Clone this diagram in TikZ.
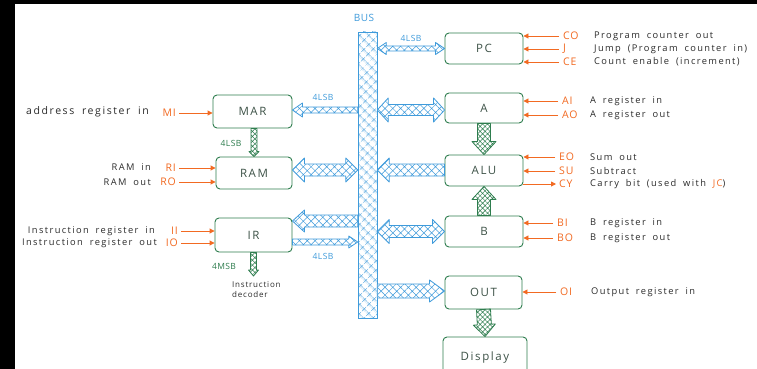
\documentclass[tikz,border=0pt]{standalone}
\usepackage{fontspec}
\setmainfont{Open Sans}
\newfontfamily\descfont{Open Sans}[LetterSpace=15,WordSpace=1.8]
\usetikzlibrary{patterns.meta,arrows.meta,calc}
\definecolor{busblue}{HTML}{3F9BDB}
\definecolor{boxgreen}{HTML}{2E7D4E}
\definecolor{sigorange}{HTML}{F26A22}
\definecolor{inkgray}{HTML}{2B2B2B}
\definecolor{lblgray}{HTML}{3D5247}
% single fat arrow: style, from, to, half shaft, half head, head length
\newcommand\fatarrow[6]{%
\path[#1] let \p1=#2, \p2=#3,
  \n1={(\x2-\x1)/veclen(\x2-\x1,\y2-\y1)},
  \n2={(\y2-\y1)/veclen(\x2-\x1,\y2-\y1)} in
  ({\x1-#4*\n2},{\y1+#4*\n1})
  -- ({\x2-#6*\n1-#4*\n2},{\y2-#6*\n2+#4*\n1})
  -- ({\x2-#6*\n1-#5*\n2},{\y2-#6*\n2+#5*\n1})
  -- (\p2)
  -- ({\x2-#6*\n1+#5*\n2},{\y2-#6*\n2-#5*\n1})
  -- ({\x2-#6*\n1+#4*\n2},{\y2-#6*\n2-#4*\n1})
  -- ({\x1+#4*\n2},{\y1-#4*\n1}) -- cycle;}
% double fat arrow
\newcommand\fatdarrow[6]{%
\path[#1] let \p1=#2, \p2=#3,
  \n1={(\x2-\x1)/veclen(\x2-\x1,\y2-\y1)},
  \n2={(\y2-\y1)/veclen(\x2-\x1,\y2-\y1)} in
  (\p1)
  -- ({\x1+#6*\n1-#5*\n2},{\y1+#6*\n2+#5*\n1})
  -- ({\x1+#6*\n1-#4*\n2},{\y1+#6*\n2+#4*\n1})
  -- ({\x2-#6*\n1-#4*\n2},{\y2-#6*\n2+#4*\n1})
  -- ({\x2-#6*\n1-#5*\n2},{\y2-#6*\n2+#5*\n1})
  -- (\p2)
  -- ({\x2-#6*\n1+#5*\n2},{\y2-#6*\n2-#5*\n1})
  -- ({\x2-#6*\n1+#4*\n2},{\y2-#6*\n2-#4*\n1})
  -- ({\x1+#6*\n1+#4*\n2},{\y1+#6*\n2-#4*\n1})
  -- ({\x1+#6*\n1+#5*\n2},{\y1+#6*\n2-#5*\n1})
  -- cycle;}
\begin{document}
\begin{tikzpicture}[x=1pt,y=-1pt,
  reg/.style={draw=boxgreen, line width=0.9pt, rounded corners=4pt, text=lblgray,
    font=\fontsize{11.5}{12}\selectfont\addfontfeatures{LetterSpace=14}, inner sep=0pt},
  busbar/.style={draw=busblue, line width=0.8pt, pattern={Hatch[angle=45,distance=6.5pt,line width=0.5pt]}, pattern color=busblue, inner sep=0pt},
  bluefat/.style={draw=busblue, line width=0.8pt, line join=round, preaction={fill=white},
    pattern={Hatch[angle=45,distance=5.5pt,line width=0.5pt]}, pattern color=busblue},
  greenfat/.style={draw=boxgreen, line width=0.8pt, line join=round, preaction={fill=white},
    pattern={Hatch[angle=45,distance=3.5pt,line width=0.5pt]}, pattern color=boxgreen},
  sigl/.style={text=sigorange, font=\fontsize{10.5}{11}\selectfont\addfontfeatures{LetterSpace=8}, inner sep=0pt},
  sig/.style={draw=sigorange, line width=0.9pt, -{Triangle[length=5pt,width=5pt]}},
  desc/.style={text=inkgray, font=\descfont\fontsize{9.3}{10}\selectfont, inner sep=0pt},
  buslbl/.style={text=busblue, font=\fontsize{8.5}{9}\selectfont\addfontfeatures{LetterSpace=5}, inner sep=0pt},
  grnlbl/.style={text=boxgreen, font=\fontsize{8.5}{9}\selectfont\addfontfeatures{LetterSpace=5}, inner sep=0pt},
]
\useasboundingbox (0,0) rectangle (757,369);
\fill[white] (0,0) rectangle (757,369);

% registers
\node[reg, minimum width=78pt, minimum height=31pt] (PC) at (484,48.5) {PC};
\node[reg, minimum width=78pt, minimum height=30pt] (A) at (484,108) {A};
\node[reg, minimum width=78pt, minimum height=31pt] (ALU) at (484,170.5) {ALU};
\node[reg, minimum width=78pt, minimum height=31pt] (B) at (484,231.5) {B};
\node[reg, minimum width=77pt, minimum height=33pt] (OUT) at (483.5,292.5) {OUT};
\node[reg, minimum width=84pt, minimum height=38pt, text depth=0pt] (DISP) at (485,356) {Display};
\node[reg, minimum width=79pt, minimum height=33pt] (MAR) at (252.5,111.5) {MAR};
\node[reg, minimum width=76pt, minimum height=32pt] (RAM) at (254,173) {RAM};
\node[reg, minimum width=77pt, minimum height=34pt] (IR) at (253.5,235) {IR};

% bus
\node[busbar, minimum width=19pt, minimum height=286pt] (bus) at (367.5,175) {};
\node[text=busblue, font=\fontsize{10}{11}\selectfont\addfontfeatures{LetterSpace=5}, inner sep=0pt] (buslabel) at (364,18) {BUS};

% blue bus arrows
\fatdarrow{bluefat}{(bus.east |- PC.west)}{(PC.west)}{2.5pt}{6pt}{9pt}
\node[buslbl] (lpc) at (411,38) {4LSB};
\fatarrow{bluefat}{([yshift=1.5pt]bus.west |- MAR.east)}{([yshift=1.5pt]MAR.east)}{3pt}{7pt}{10pt}
\node[buslbl] (lmar) at (323,97) {4LSB};
\fatdarrow{bluefat}{([yshift=3pt]RAM.east)}{([yshift=3pt]bus.west |- RAM.east)}{6pt}{12pt}{12pt}
\fatarrow{bluefat}{([yshift=14pt]bus.west |- IR.east)}{([yshift=14pt]IR.east)}{6pt}{11pt}{12pt}
\fatarrow{bluefat}{([yshift=-7pt]IR.east)}{([yshift=-7pt]bus.west |- IR.east)}{3pt}{6pt}{9pt}
\node[buslbl] (lir) at (323,256) {4LSB};
\fatdarrow{bluefat}{([yshift=-2pt]bus.east |- A.west)}{([yshift=-2pt]A.west)}{5.5pt}{12pt}{11pt}
\fatarrow{bluefat}{([yshift=0.5pt]ALU.west)}{([yshift=0.5pt]bus.east |- ALU.west)}{6pt}{12pt}{12pt}
\fatdarrow{bluefat}{(bus.east |- B.west)}{(B.west)}{6pt}{12pt}{12pt}
\fatarrow{bluefat}{([yshift=1.5pt]bus.east |- OUT.west)}{([yshift=1.5pt]OUT.west)}{7pt}{11pt}{15pt}

% green data arrows
\fatarrow{greenfat}{(MAR.south -| RAM.north)}{(RAM.north)}{3pt}{5pt}{5pt}
\node[grnlbl] (lmr) at (231,143) {4LSB};
\coordinate (dec) at (253.5,276);
\fatarrow{greenfat}{(IR.south)}{(dec)}{3pt}{5pt}{6pt}
\node[grnlbl] (lms) at (224,266) {4MSB};
\node[text=inkgray, font=\fontsize{8}{10}\selectfont\addfontfeatures{LetterSpace=10}, align=left, anchor=north west, inner sep=0pt] (decoder) at (232,281) {Instruction\\decoder};
\fatarrow{greenfat}{(A.south)}{(ALU.north)}{6.5pt}{12pt}{13pt}
\fatarrow{greenfat}{(B.north)}{(ALU.south)}{6.5pt}{12pt}{13pt}
\fatarrow{greenfat}{(OUT.south)}{(DISP.north)}{7pt}{11pt}{12pt}

% right control signals
\node[sigl, anchor=west] (CO) at (563,36) {CO};
\node[sigl, anchor=west] (J) at (563,49) {J};
\node[sigl, anchor=west] (CE) at (563,62) {CE};
\node[sigl, anchor=west] (AI) at (562,101) {AI};
\node[sigl, anchor=west] (AO) at (562,115) {AO};
\node[sigl, anchor=west] (EO) at (559,157) {EO};
\node[sigl, anchor=west] (SU) at (559,171) {SU};
\node[sigl, anchor=west] (CY) at (559,184) {CY};
\node[sigl, anchor=west] (BI) at (557,223) {BI};
\node[sigl, anchor=west] (BO) at (557,238) {BO};
\node[sigl, anchor=west] (OI) at (560,292) {OI};
\foreach \s/\r in {CO/PC,J/PC,CE/PC,AI/A,AO/A,EO/ALU,SU/ALU,BI/B,BO/B,OI/OUT}
  \draw[sig] ([xshift=-4pt]\s.west |- \s.center) -- (\r.east |- \s.center);
\draw[sig] (ALU.east |- CY.center) -- ([xshift=-3pt]CY.west |- CY.center);

\node[desc, anchor=west] (dCO) at (594,36) {Program counter out};
\node[desc, anchor=west] (dJ) at (594,49) {Jump (Program counter in)};
\node[desc, anchor=west] (dCE) at (594,62) {Count enable (increment)};
\node[desc, anchor=west] (dAI) at (590,101) {A register in};
\node[desc, anchor=west] (dAO) at (590,115) {A register out};
\node[desc, anchor=west] (dEO) at (590,157) {Sum out};
\node[desc, anchor=west] (dSU) at (590,171) {Subtract};
\node[desc, anchor=west] (dCY) at (590,184) {Carry bit (used with \textcolor{sigorange}{JC})};
\node[desc, anchor=west] (dBI) at (590,223) {B register in};
\node[desc, anchor=west] (dBO) at (590,238) {B register out};
\node[desc, anchor=west] (dOI) at (591,292) {Output register in};

% left control signals
\node[sigl, anchor=east] (MI) at (176,113) {MI};
\node[sigl, anchor=east] (RI) at (176,168) {RI};
\node[sigl, anchor=east] (RO) at (176,182) {RO};
\node[sigl, anchor=east] (II) at (178,231) {II};
\node[sigl, anchor=east] (IO) at (178,243) {IO};
\foreach \s/\r in {MI/MAR,RI/RAM,RO/RAM,II/IR,IO/IR}
  \draw[sig] ([xshift=3pt]\s.east |- \s.center) -- (\r.west |- \s.center);
\node[desc, font=\descfont\fontsize{10.5}{11}\selectfont, anchor=east] (dMI) at (149,112) {address register in};
\node[desc, anchor=east] (dRI) at (151,167) {RAM in};
\node[desc, anchor=east] (dRO) at (151,182) {RAM out};
\node[desc, anchor=east] (dII) at (155,231) {Instruction register in};
\node[desc, anchor=east] (dIO) at (157,243) {Instruction register out};

% black margins of the original screenshot
\fill[black] (0,0) rectangle (15,369);
\fill[black] (0,0) rectangle (757,4);
\end{tikzpicture}
\end{document}
